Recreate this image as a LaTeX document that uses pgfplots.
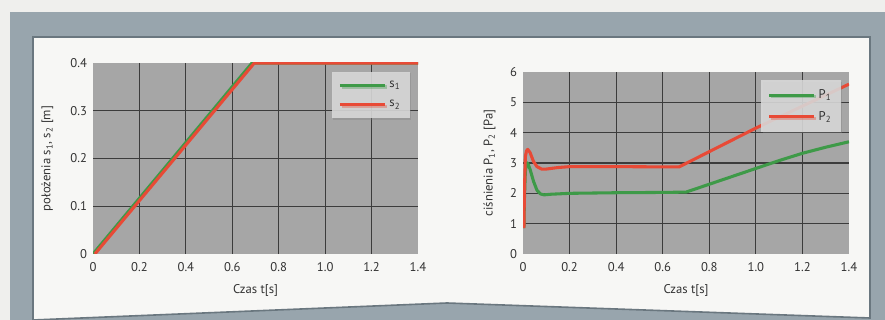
\documentclass[border=0pt]{standalone}
\usepackage{fontspec}
\setmainfont{PT Sans}
\usepackage{pgfplots}
\pgfplotsset{compat=1.18}
\usetikzlibrary{shadows}
\definecolor{page}{HTML}{EFEFED}
\definecolor{band}{HTML}{98A5AD}
\definecolor{bandedge}{HTML}{6A777F}
\definecolor{panel}{HTML}{F7F7F5}
\definecolor{plotbg}{HTML}{A6A6A6}
\definecolor{gridc}{HTML}{3C3C3C}
\definecolor{cgreen}{HTML}{3E9A48}
\definecolor{cred}{HTML}{E84A36}
\definecolor{legbg}{HTML}{DCDCDC}
\definecolor{txt}{HTML}{333333}
\pgfplotsset{mystyle/.style={
  scale only axis,
  axis background/.style={fill=plotbg},
  axis line style={draw=none},
  major tick length=0pt,
  xmin=0, xmax=1.4,
  xtick={0,0.2,0.4,0.6,0.8,1.0,1.2,1.4},
  xticklabels={0,0.2,0.4,0.6,0.8,1.0,1.2,1.4},
  extra x ticks={0.2,0.4,0.6,0.8,1.0,1.2},
  extra x tick labels={},
  extra tick style={grid=major, major grid style={gridc, line width=0.8pt}, major tick length=0pt},
  tick label style={font=\fontsize{9.5}{11}\selectfont, text=txt},
  xticklabel style={yshift=-2.5pt},
  yticklabel style={xshift=-1pt},
  label style={font=\fontsize{9.5}{11}\selectfont, text=txt},
  xlabel style={yshift=-3pt},
  /pgf/number format/assume math mode=true,
  xlabel={Czas t[s]},
  legend cell align=left,
  legend style={at={(0.975,0.955)}, anchor=north east, draw=none, fill=legbg,
    fill opacity=0.85, text opacity=1,
    drop shadow={shadow xshift=1.2pt, shadow yshift=-1.2pt, opacity=0.35},
    font=\fontsize{9.5}{11}\selectfont, inner xsep=5pt, inner ysep=5pt, row sep=4pt, text=txt},
  legend image code/.code={\draw[#1] (0pt,0pt) -- (34pt,0pt);},
  every axis plot/.append style={line width=2.3pt, line join=round},
}}
\begin{document}
\begin{tikzpicture}
% background frame
\fill[page] (0,0) rectangle (663.75pt,240pt);
\fill[band] (7.5pt,0pt) rectangle (663.75pt,231pt);
\fill[panel] (24.75pt,212.25pt) -- (652.5pt,212.25pt) -- (652.5pt,1.5pt) -- (335.25pt,12.75pt) -- (24.75pt,0pt) -- cycle;
\draw[bandedge, line width=1.2pt] (24.75pt,0pt) -- (24.75pt,212.25pt) -- (652.5pt,212.25pt) -- (652.5pt,1.5pt) -- (335.25pt,12.75pt) -- (24.75pt,0pt);

\begin{axis}[mystyle,
  at={(69.75pt,49.5pt)}, anchor=south west,
  width=243.75pt, height=143.25pt,
  ymin=0, ymax=0.4,
  ytick={0,0.1,0.2,0.3,0.4},
  yticklabels={0,0.1,0.2,0.3,0.4},
  extra y ticks={0.1,0.2,0.3},
  extra y tick labels={},
  ylabel={położenia s\textsubscript{1}, s\textsubscript{2} [m]},
  ylabel style={yshift=6pt},
]
\addplot[cgreen] coordinates {(0,0) (0.685,0.4) (1.4,0.4)};
\addplot[cred] coordinates {(0.008,0) (0.695,0.4) (1.4,0.4)};
\legend{s\textsubscript{1}, s\textsubscript{2}}
\end{axis}

\begin{axis}[mystyle,
  at={(392.25pt,49.5pt)}, anchor=south west,
  width=244.5pt, height=136.5pt,
  ymin=0, ymax=6,
  ytick={0,1,2,3,4,5,6},
  yticklabels={0,1,2,3,4,5,6},
  extra y ticks={1,2,3,4,5},
  extra y tick labels={},
  ylabel={ciśnienia P\textsubscript{1}, P\textsubscript{2} [Pa]},
  ylabel style={yshift=4pt},
  clip=true,
]
\addplot[cgreen] coordinates {(0.004,0.85) (0.006,1.8) (0.01,2.7) (0.015,3.0) (0.02,3.0) (0.03,2.8) (0.045,2.4) (0.06,2.1) (0.075,1.98) (0.09,1.95) (0.12,1.97) (0.2,2.0) (0.4,2.02) (0.6,2.03) (0.7,2.04) (0.8,2.3) (0.9,2.56) (1.0,2.82) (1.1,3.08) (1.2,3.32) (1.3,3.52) (1.4,3.7)};
\addplot[cred] coordinates {(0.004,0.85) (0.006,2.0) (0.01,3.2) (0.015,3.4) (0.02,3.45) (0.03,3.35) (0.045,3.05) (0.06,2.88) (0.08,2.8) (0.1,2.8) (0.15,2.85) (0.2,2.88) (0.4,2.88) (0.67,2.87) (1.0,4.15) (1.4,5.6)};
\legend{P\textsubscript{1}, P\textsubscript{2}}
\node[anchor=south west, font=\fontsize{8.5}{10}\selectfont, text=txt, inner sep=1pt] at (rel axis cs:0.005,1) {x10\textsuperscript{5}};
\end{axis}
\pgfresetboundingbox
\path[use as bounding box] (0,0) rectangle (663.75pt,240pt);
\end{tikzpicture}
\end{document}
